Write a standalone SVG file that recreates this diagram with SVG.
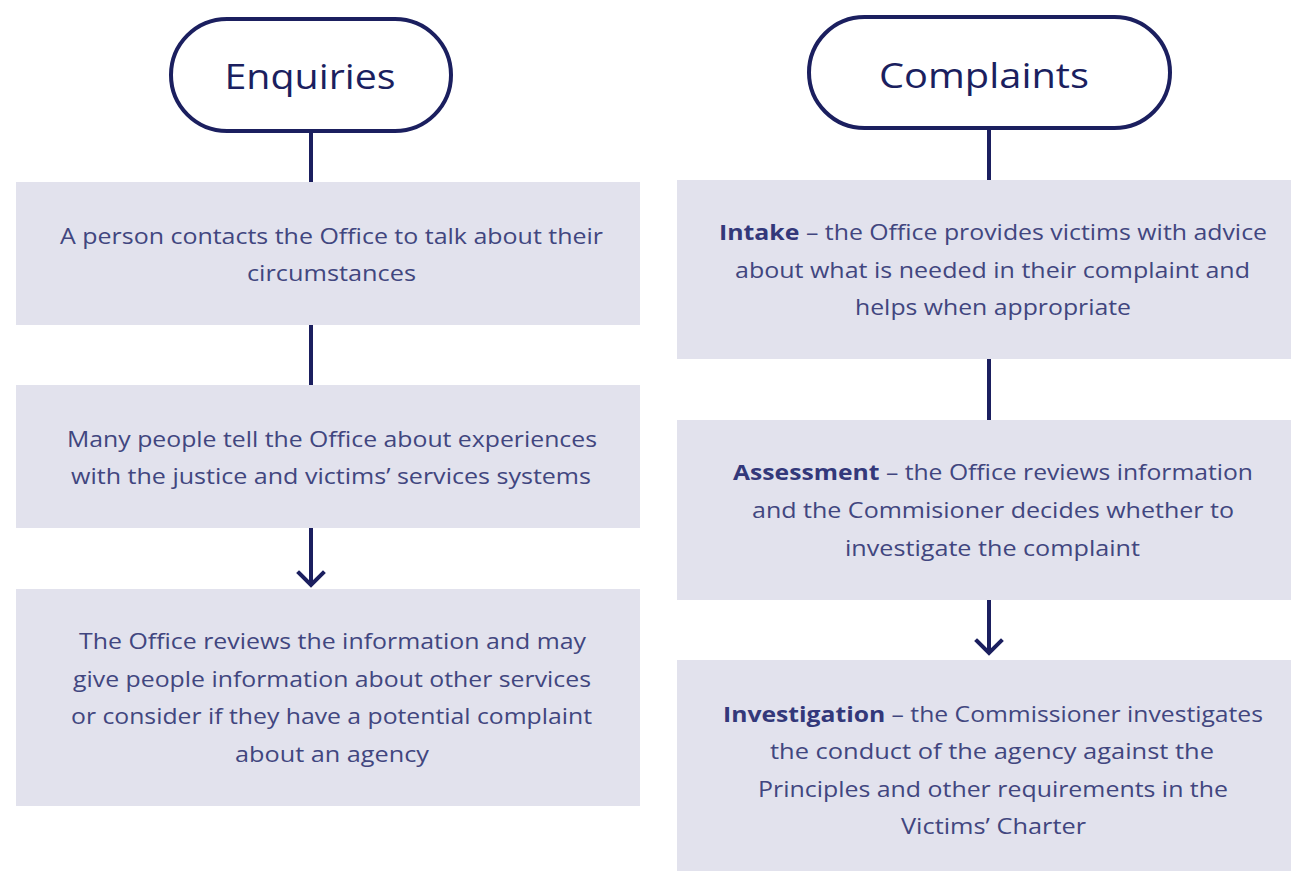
<svg xmlns="http://www.w3.org/2000/svg" width="1291" height="871" viewBox="0 0 1291 871">
  <defs>
    <style>
      .pill { fill: #ffffff; stroke: #1b1f5f; stroke-width: 4; }
      .title { font-family: "Open Sans", "Liberation Sans", sans-serif; font-size: 35px; fill: #1b1f5f; text-anchor: middle; }
      .box { fill: #e2e2ed; }
      .txt { font-family: "Open Sans", "Liberation Sans", sans-serif; font-size: 22px; fill: #41467f; text-anchor: middle; }
      .txt tspan.b { font-weight: 700; fill: #33387a; }
      .link { stroke: #1b1f5f; stroke-width: 4; fill: none; }
      .head { stroke: #1b1f5f; stroke-width: 4; fill: none; stroke-linecap: square; stroke-linejoin: miter; }
    </style>
  </defs>
  <rect width="1291" height="871" fill="#ffffff"/>

  <!-- connectors -->
  <g id="connectors">
    <line class="link" x1="311" y1="133" x2="311" y2="183"/>
    <line class="link" x1="311" y1="324" x2="311" y2="386"/>
    <line class="link" x1="311" y1="527" x2="311" y2="583"/>
    <polyline class="head" points="299,573 311,585 323,573"/>

    <line class="link" x1="989" y1="130" x2="989" y2="181"/>
    <line class="link" x1="989" y1="358" x2="989" y2="421"/>
    <line class="link" x1="989" y1="599" x2="989" y2="651"/>
    <polyline class="head" points="977,641 989,653 1001,641"/>
  </g>

  <!-- left column -->
  <g id="enquiries">
    <rect class="pill" x="171" y="19" width="280" height="112" rx="56"/>
    <text class="title" x="310" y="89" textLength="171" lengthAdjust="spacingAndGlyphs">Enquiries</text>
  </g>
  <g id="enq-contact">
    <rect class="box" x="16" y="182" width="624" height="143"/>
    <text class="txt" x="331.5" y="244" textLength="543" lengthAdjust="spacingAndGlyphs">A person contacts the Office to talk about their</text>
    <text class="txt" x="331.5" y="281" textLength="169" lengthAdjust="spacingAndGlyphs">circumstances</text>
  </g>
  <g id="enq-experiences">
    <rect class="box" x="16" y="385" width="624" height="143"/>
    <text class="txt" x="332" y="447" textLength="530" lengthAdjust="spacingAndGlyphs">Many people tell the Office about experiences</text>
    <text class="txt" x="331" y="484" textLength="520" lengthAdjust="spacingAndGlyphs">with the justice and victims’ services systems</text>
  </g>
  <g id="enq-review">
    <rect class="box" x="16" y="589" width="624" height="217"/>
    <text class="txt" x="332.5" y="649" textLength="507" lengthAdjust="spacingAndGlyphs">The Office reviews the information and may</text>
    <text class="txt" x="332" y="687" textLength="518" lengthAdjust="spacingAndGlyphs">give people information about other services</text>
    <text class="txt" x="331.5" y="724" textLength="521" lengthAdjust="spacingAndGlyphs">or consider if they have a potential complaint</text>
    <text class="txt" x="332" y="762" textLength="194" lengthAdjust="spacingAndGlyphs">about an agency</text>
  </g>

  <!-- right column -->
  <g id="complaints">
    <rect class="pill" x="809" y="17" width="361" height="111" rx="55.5"/>
    <text class="title" x="984" y="88" textLength="210" lengthAdjust="spacingAndGlyphs">Complaints</text>
  </g>
  <g id="cmp-intake">
    <rect class="box" x="677" y="180" width="614" height="179"/>
    <text class="txt" x="993" y="240" textLength="548" lengthAdjust="spacingAndGlyphs"><tspan class="b">Intake</tspan> – the Office provides victims with advice</text>
    <text class="txt" x="992.5" y="278" textLength="515" lengthAdjust="spacingAndGlyphs">about what is needed in their complaint and</text>
    <text class="txt" x="993" y="315" textLength="276" lengthAdjust="spacingAndGlyphs">helps when appropriate</text>
  </g>
  <g id="cmp-assessment">
    <rect class="box" x="677" y="420" width="614" height="180"/>
    <text class="txt" x="993" y="480" textLength="520" lengthAdjust="spacingAndGlyphs"><tspan class="b">Assessment</tspan> – the Office reviews information</text>
    <text class="txt" x="993" y="518" textLength="482" lengthAdjust="spacingAndGlyphs">and the Commisioner decides whether to</text>
    <text class="txt" x="992.5" y="556" textLength="295" lengthAdjust="spacingAndGlyphs">investigate the complaint</text>
  </g>
  <g id="cmp-investigation">
    <rect class="box" x="677" y="660" width="614" height="211"/>
    <text class="txt" x="993" y="722" textLength="540" lengthAdjust="spacingAndGlyphs"><tspan class="b">Investigation</tspan> – the Commissioner investigates</text>
    <text class="txt" x="992" y="759" textLength="444" lengthAdjust="spacingAndGlyphs">the conduct of the agency against the</text>
    <text class="txt" x="993" y="797" textLength="470" lengthAdjust="spacingAndGlyphs">Principles and other requirements in the</text>
    <text class="txt" x="993.5" y="834" textLength="185" lengthAdjust="spacingAndGlyphs">Victims’ Charter</text>
  </g>
</svg>
